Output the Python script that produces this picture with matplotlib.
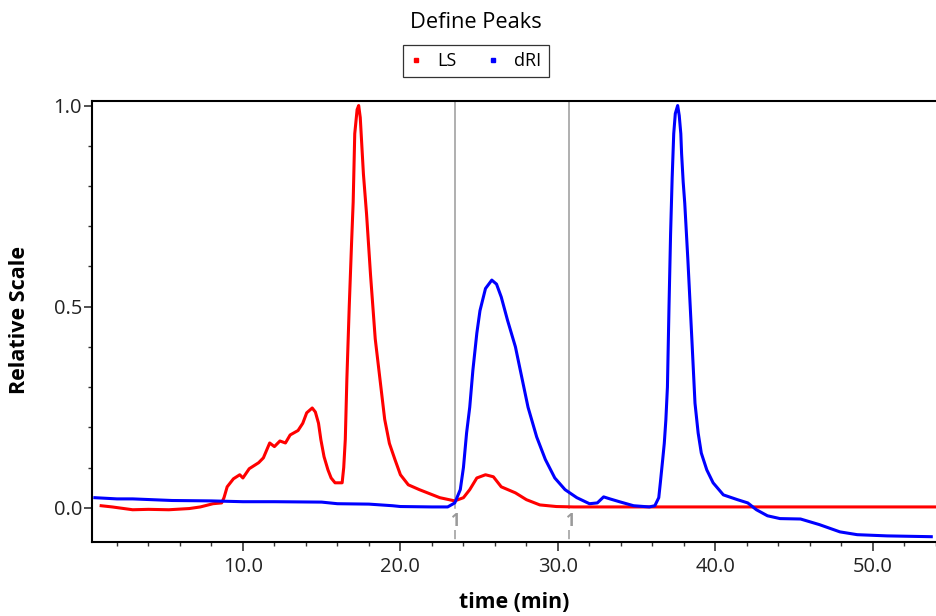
#!/usr/bin/env python
# -*- coding: utf-8 -*-

import matplotlib
matplotlib.use('Agg')
import matplotlib.pyplot as plt
from matplotlib.lines import Line2D
from matplotlib.ticker import MultipleLocator, FormatStrFormatter

plt.rcParams['font.family'] = ['Open Sans', 'DejaVu Sans']

# LS trace (red)
ls_time = [1.0, 1.7, 3.0, 4.0, 5.3, 6.6, 7.3, 8.1, 8.65, 8.8, 9.0, 9.4,
           9.8, 10.0, 10.4, 11.0, 11.3, 11.7, 12.0, 12.35, 12.7, 13.0, 13.5,
           13.8, 14.05, 14.4, 14.6, 14.8, 14.95, 15.15, 15.4, 15.6, 15.85,
           16.3, 16.4, 16.5, 16.6, 16.75, 16.9, 17.0, 17.1, 17.25, 17.35,
           17.45, 17.55, 17.65, 17.75, 17.85, 18.1, 18.4, 18.7, 19.0, 19.3,
           19.65, 20.0, 20.5, 21.2, 22.5, 23.45, 24.0, 24.4, 24.85, 25.4,
           25.9, 26.4, 27.3, 28.0, 28.85, 29.9, 31.0, 35.0, 40.0, 45.0,
           50.0, 54.0]
ls_value = [0.005, 0.002, -0.005, -0.004, -0.005, -0.002, 0.002, 0.01,
            0.012, 0.025, 0.052, 0.072, 0.082, 0.074, 0.097, 0.112, 0.124,
            0.161, 0.152, 0.166, 0.161, 0.181, 0.192, 0.21, 0.236, 0.248,
            0.238, 0.21, 0.169, 0.127, 0.094, 0.074, 0.062, 0.062, 0.10,
            0.17, 0.32, 0.50, 0.66, 0.76, 0.93, 0.99, 1.0, 0.97, 0.90, 0.83,
            0.78, 0.73, 0.58, 0.42, 0.32, 0.22, 0.16, 0.12, 0.082, 0.057,
            0.045, 0.025, 0.017, 0.025, 0.045, 0.074, 0.082, 0.077, 0.052,
            0.037, 0.02, 0.007, 0.003, 0.002, 0.002, 0.002, 0.002, 0.002,
            0.002]

# dRI trace (blue)
dri_time = [0.6, 2.0, 3.0, 5.5, 8.0, 10.0, 12.0, 15.0, 16.0, 18.0, 19.5,
            20.0, 22.0, 23.0, 23.45, 23.8, 24.0, 24.2, 24.4, 24.6, 24.85,
            25.05, 25.4, 25.8, 26.1, 26.4, 26.8, 27.3, 27.7, 28.1, 28.65,
            29.2, 29.8, 30.45, 31.2, 32.0, 32.5, 32.9, 33.3, 33.9, 34.8,
            35.8, 36.15, 36.4, 36.5, 36.65, 36.75, 36.85, 36.95, 37.05,
            37.15, 37.25, 37.35, 37.45, 37.6, 37.7, 37.8, 37.85, 37.95,
            38.05, 38.25, 38.5, 38.7, 38.9, 39.1, 39.45, 39.85, 40.5, 41.4,
            42.05, 42.6, 43.3, 44.1, 45.4, 46.6, 47.9, 49.0, 50.9, 53.7]
dri_value = [0.025, 0.022, 0.022, 0.018, 0.017, 0.015, 0.015, 0.014,
             0.010, 0.009, 0.005, 0.003, 0.002, 0.002, 0.012, 0.045, 0.10,
             0.186, 0.25, 0.342, 0.434, 0.49, 0.545, 0.566, 0.556, 0.524,
             0.466, 0.40, 0.325, 0.25, 0.176, 0.12, 0.074, 0.045, 0.025,
             0.01, 0.012, 0.027, 0.022, 0.015, 0.005, 0.002, 0.005, 0.025,
             0.062, 0.12, 0.16, 0.218, 0.30, 0.50, 0.68, 0.82, 0.93, 0.98,
             1.0, 0.975, 0.93, 0.88, 0.81, 0.757, 0.615, 0.42, 0.26, 0.186,
             0.136, 0.094, 0.062, 0.032, 0.02, 0.012, -0.005, -0.02, -0.027,
             -0.028, -0.042, -0.06, -0.067, -0.07, -0.072]

# peak limits
peak_bounds = [23.45, 30.72]
peak_labels = ['1', '1']

YMIN, YMAX = -0.086, 1.012
GREY = '#9a9a9a'


def draw_bounds(ax):
    for xpos, lab in zip(peak_bounds, peak_labels):
        ax.plot([xpos, xpos], [YMAX, 0.0], color=GREY, lw=1.1, zorder=1)
        ax.plot([xpos, xpos], [-0.055, YMIN], color=GREY, lw=1.1,
                dashes=(6, 2), zorder=1)
        ax.text(xpos, -0.034, lab, color=GREY, fontsize=12,
                fontweight='bold', ha='center', va='center')


def main():
    fig = plt.figure(figsize=(9.36, 6.16), dpi=100)
    ax = fig.add_axes([0.0988, 0.1196, 0.9012, 0.7169])

    draw_bounds(ax)
    ax.plot(ls_time, ls_value, color='#ff0000', lw=2.2, zorder=3)
    ax.plot(dri_time, dri_value, color='#0000ff', lw=2.2, zorder=3)

    ax.set_xlim(0.45, 54.0)
    ax.set_ylim(YMIN, YMAX)

    ax.xaxis.set_major_locator(MultipleLocator(10))
    ax.xaxis.set_minor_locator(MultipleLocator(2))
    ax.yaxis.set_major_locator(MultipleLocator(0.5))
    ax.yaxis.set_minor_locator(MultipleLocator(0.1))
    ax.xaxis.set_major_formatter(FormatStrFormatter('%.1f'))
    ax.yaxis.set_major_formatter(FormatStrFormatter('%.1f'))

    ax.tick_params(axis='both', which='major', labelsize=14.5,
                   width=1.2, color='#333333', labelcolor='#222222')
    ax.tick_params(axis='x', which='major', length=6.5, pad=4)
    ax.tick_params(axis='y', which='major', length=6, pad=1.5)
    ax.tick_params(axis='both', which='minor', length=3, width=1.0,
                   color='#333333')

    for side in ['left', 'bottom', 'top']:
        ax.spines[side].set_linewidth(1.5)
    ax.spines['right'].set_visible(False)

    ax.set_xlabel('time (min)', fontsize=15.3, fontweight='bold')
    ax.set_ylabel('Relative Scale', fontsize=15.5, fontweight='bold')
    ax.xaxis.set_label_coords(0.5, -0.112)
    ax.yaxis.set_label_coords(-0.074, 0.503)

    fig.text(476 / 936, 1 - 22 / 616, 'Define Peaks', ha='center',
             va='center', fontsize=15.7)

    handles = [Line2D([], [], ls='none', marker='s', ms=2.2, color='#ff0000'),
               Line2D([], [], ls='none', marker='s', ms=2.2, color='#0000ff')]
    leg = fig.legend(handles, ['LS', 'dRI'], loc='center',
                     bbox_to_anchor=(476 / 936, 1 - 61 / 616), ncol=2,
                     fontsize=13, fancybox=False, edgecolor='black',
                     handlelength=0.6, handletextpad=0.9, columnspacing=1.7,
                     borderpad=0.4, borderaxespad=0)
    leg.get_frame().set_linewidth(0.9)

    fig.savefig('out.png', dpi=100)
    plt.close(fig)


if __name__ == '__main__':
    main()
